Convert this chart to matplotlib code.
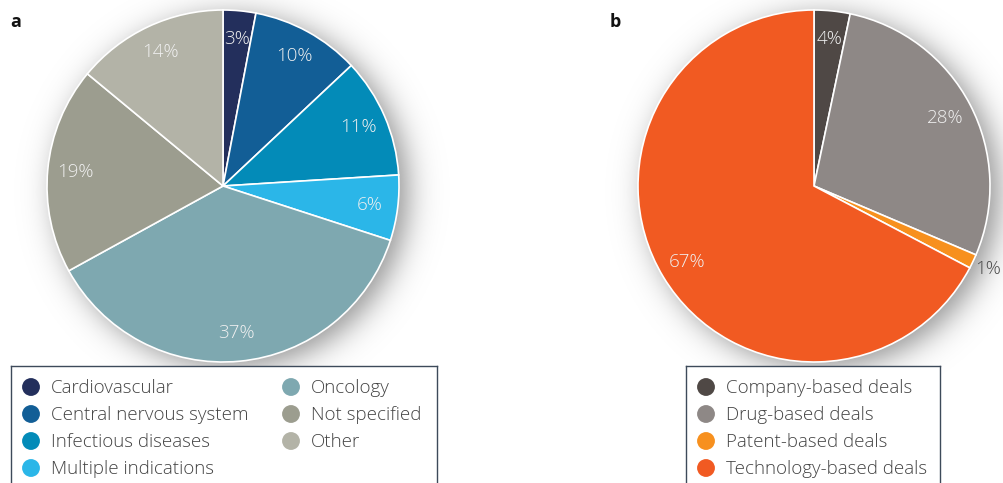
import numpy as np
import matplotlib
matplotlib.use('Agg')
import matplotlib.pyplot as plt

# ---------------- data ----------------
a_categories = ['Cardiovascular', 'Central nervous system', 'Infectious diseases',
                'Multiple indications', 'Oncology', 'Not specified', 'Other']
a_values = [3, 10, 11, 6, 37, 19, 14]
a_labels = ['3%', '10%', '11%', '6%', '37%', '19%', '14%']
a_colors = ['#232f5c', '#125e96', '#038bb8', '#2bb6e8', '#7ea8b0', '#9c9d8f', '#b3b3a7']

b_categories = ['Company-based deals', 'Drug-based deals', 'Patent-based deals',
                'Technology-based deals']
b_values = [3.3, 28.1, 1.3, 67.3]
b_labels = ['4%', '28%', '1%', '67%']
b_colors = ['#4f4845', '#8e8886', '#f7901e', '#f15a22']

# ---------------- style ----------------
FAMILY = ['Open Sans', 'DejaVu Sans']
plt.rcParams['font.family'] = FAMILY

W, H = 1004, 483
fig = plt.figure(figsize=(W / 100, H / 100), dpi=100)
fig.patch.set_facecolor('white')


def px_axes(x0, y0, x1, y1, z=1):
    ax = fig.add_axes([x0 / W, 1 - y1 / H, (x1 - x0) / W, (y1 - y0) / H])
    ax.set_zorder(z)
    return ax


def draw_pie(cx, cy, R, values, colors, labels, outside=()):
    S = 1.35
    ax = px_axes(cx - S * R, cy - S * R, cx + S * R, cy + S * R, z=1)
    ax.axis('off')
    # soft drop shadow
    n = 600
    g = np.linspace(-S, S, n)
    X, Y = np.meshgrid(g, g)
    ox, oy = 9 / R, -6 / R
    d = np.hypot(X - ox, Y - oy) - 1
    s = 9 / R
    alpha = 0.42 / (1 + np.exp(d / s))
    rgba = np.zeros((n, n, 4))
    rgba[..., :3] = 0.0
    rgba[..., 3] = alpha
    ax.imshow(rgba, extent=(-S, S, -S, S), origin='lower', zorder=0,
              interpolation='bilinear')
    wedges, texts = ax.pie(values, colors=colors, startangle=90, counterclock=False,
                           radius=1, labels=labels, labeldistance=0.84,
                           wedgeprops=dict(edgecolor='white', linewidth=1.2),
                           textprops=dict(color='#f0f0f0', fontsize=13.5,
                                          fontweight='light'))
    for w in wedges:
        w.set_zorder(2)
    for i, t in enumerate(texts):
        t.set_ha('center')
        t.set_va('center')
        t.set_zorder(3)
        if i in outside:
            w = wedges[i]
            ang = np.deg2rad((w.theta1 + w.theta2) / 2)
            t.set_position((1.095 * np.cos(ang), 1.095 * np.sin(ang)))
            t.set_color('#4a4a4a')
    ax.set_xlim(-S, S)
    ax.set_ylim(-S, S)
    ax.set_aspect('equal')
    return ax


def draw_legend(x0, y0, x1, y1, cats, colors, col_x, rows):
    ax = px_axes(x0, y0, x1, y1, z=5)
    ax.set_xlim(0, x1 - x0)
    ax.set_ylim(y1 - y0, 0)
    ax.set_xticks([])
    ax.set_yticks([])
    ax.set_facecolor('white')
    for sp in ax.spines.values():
        sp.set_color('#3d4a5a')
        sp.set_linewidth(1.0)
    for i, (c, col) in enumerate(zip(cats, colors)):
        ci, ri = divmod(i, rows)
        mx = col_x[ci]
        my = 21 + 27 * ri
        ax.scatter([mx], [my], s=165, color=col, edgecolors='none', clip_on=False)
        ax.text(mx + 20, my + 1, c, fontsize=13.5, color='#444444', va='center',
                ha='left', fontweight='light')
    return ax


draw_pie(223, 186, 176, a_values, a_colors, a_labels)
draw_pie(814, 186, 176, b_values, b_colors, b_labels, outside=(2,))

draw_legend(11, 366, 437, 495, a_categories, a_colors, [20, 280], 4)
draw_legend(686, 366, 940, 495, b_categories, b_colors, [20], 4)

fig.text(10 / W, 1 - 22 / H, 'a', fontsize=13, fontweight='bold', color='#111111',
         va='center', ha='left')
fig.text(610 / W, 1 - 22 / H, 'b', fontsize=13, fontweight='bold', color='#111111',
         va='center', ha='left')

fig.savefig('out.png', dpi=100, facecolor='white')
